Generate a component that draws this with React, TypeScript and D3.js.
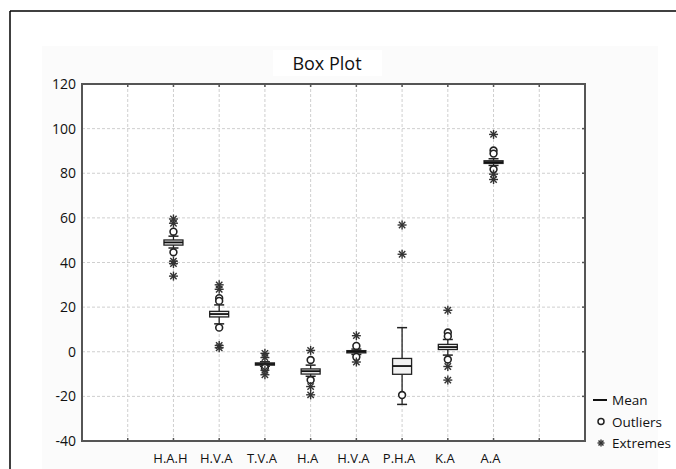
import React from "react";
import * as d3 from "d3";

const categories = ["H.A.H", "H.V.A", "T.V.A", "H.A", "H.V.A", "P.H.A", "K.A", "A.A"];
const q1 = [47.8, 15.6, -6.0, -10.0, -0.5, -10.1, 1.0, 84.4];
const means = [49.0, 16.9, -5.5, -8.7, 0.0, -6.4, 2.1, 85.0];
const q3 = [50.1, 18.1, -5.0, -7.7, 0.5, -3.0, 3.3, 85.6];
const whiskLow = [46.5, 12.5, -6.5, -11.0, -1.2, -23.6, -1.5, 83.5];
const whiskHigh = [51.8, 21.0, -4.5, -6.0, 1.2, 10.8, 5.5, 86.5];
const outliers = [
  [53.8, 44.6],
  [24.0, 22.8, 10.8],
  [-7.2],
  [-3.7, -12.7],
  [2.6, -2.3],
  [-19.4],
  [8.6, 7.0, -3.5],
  [90.2, 88.8, 81.8],
];
const extremes = [
  [59.5, 57.6, 40.6, 39.5, 33.9],
  [30.0, 28.0, 2.8, 1.8],
  [-0.7, -2.6, -8.3, -10.3],
  [0.6, -15.6, -19.3],
  [7.2, -4.6],
  [56.8, 43.7],
  [18.6, -6.6, -12.7],
  [97.4, 79.6, 77.2],
];
const yTicks = [-40, -20, 0, 20, 40, 60, 80, 100, 120];
const xGrid = [1, 2, 3, 4, 5, 6, 7, 8, 9, 10];
const legendItems = ["Mean", "Outliers", "Extremes"];

const FONT = "'Open Sans', 'Noto Sans', sans-serif";
const AX = "#555";

function Star({ x, y, r = 4.5 }: { x: number; y: number; r?: number }) {
  const lines = [0, 45, 90, 135].map((a) => {
    const rad = (a * Math.PI) / 180;
    return (
      <line
        key={a}
        x1={x - r * Math.cos(rad)}
        y1={y - r * Math.sin(rad)}
        x2={x + r * Math.cos(rad)}
        y2={y + r * Math.sin(rad)}
        stroke="#333"
        strokeWidth={1.4}
      />
    );
  });
  return <g>{lines}</g>;
}

export default function App() {
  const W = 676;
  const H = 469;
  const left = 82,
    right = 585,
    top = 84,
    bottom = 441;
  const x = d3.scaleLinear().domain([0, 11]).range([left, right]);
  const y = d3.scaleLinear().domain([-40, 120]).range([bottom, top]);
  const boxW = 19;
  const capW = 10;

  return (
    <svg
      width={W}
      height={H}
      style={{ position: "absolute", left: 0, top: 0, background: "#fff" }}
      fontFamily={FONT}
    >
      <rect x={0} y={0} width={W} height={H} fill="#fff" />
      <rect x={42} y={46} width={616} height={H - 46} fill="#fbfbfb" />
      {/* outer frame */}
      <line x1={10} y1={11} x2={W} y2={11} stroke="#000" strokeWidth={1.5} />
      <line x1={10} y1={11} x2={10} y2={H} stroke="#000" strokeWidth={1.5} />
      {/* title */}
      <rect x={273} y={50} width={109} height={26} fill="#fff" />
      <text x={327} y={70} textAnchor="middle" fontSize={18} fill="#111">
        Box Plot
      </text>
      {/* plot area */}
      <rect x={left} y={top} width={right - left} height={bottom - top} fill="#fff" />
      {yTicks.map((t) => (
        <line
          key={"gy" + t}
          x1={left}
          x2={right}
          y1={y(t)}
          y2={y(t)}
          stroke="#cfcfcf"
          strokeWidth={1}
          strokeDasharray="3,2"
        />
      ))}
      {xGrid.map((g) => (
        <line
          key={"gx" + g}
          x1={x(g)}
          x2={x(g)}
          y1={top}
          y2={bottom}
          stroke="#cfcfcf"
          strokeWidth={1}
          strokeDasharray="3,2"
        />
      ))}
      {/* ticks */}
      {xGrid.map((g) => (
        <g key={"tx" + g}>
          <line x1={x(g)} x2={x(g)} y1={top} y2={top + 3} stroke={AX} strokeWidth={1.5} />
          <line x1={x(g)} x2={x(g)} y1={bottom} y2={bottom - 3} stroke={AX} strokeWidth={1.5} />
        </g>
      ))}
      {yTicks.map((t) => (
        <line key={"ty" + t} x1={right} x2={right - 3} y1={y(t)} y2={y(t)} stroke={AX} strokeWidth={1.5} />
      ))}
      <rect
        x={left}
        y={top}
        width={right - left}
        height={bottom - top}
        fill="none"
        stroke={AX}
        strokeWidth={2}
      />
      {/* y labels */}
      {yTicks.map((t) => (
        <text key={"yl" + t} x={76} y={y(t) + 5} textAnchor="end" fontSize={14} fill="#111">
          {t}
        </text>
      ))}
      {/* x labels */}
      {categories.map((c, i) => (
        <text key={"xl" + i} x={x(i + 2) - 3} y={463} textAnchor="middle" fontSize={13} fill="#111">
          {c}
        </text>
      ))}
      {/* boxes */}
      {categories.map((c, i) => {
        const cx = x(i + 2);
        return (
          <g key={"b" + i}>
            <line x1={cx} x2={cx} y1={y(whiskHigh[i])} y2={y(q3[i])} stroke="#222" strokeWidth={1.3} />
            <line x1={cx} x2={cx} y1={y(q1[i])} y2={y(whiskLow[i])} stroke="#222" strokeWidth={1.3} />
            <line
              x1={cx - capW / 2}
              x2={cx + capW / 2}
              y1={y(whiskHigh[i])}
              y2={y(whiskHigh[i])}
              stroke="#222"
              strokeWidth={1.5}
            />
            <line
              x1={cx - capW / 2}
              x2={cx + capW / 2}
              y1={y(whiskLow[i])}
              y2={y(whiskLow[i])}
              stroke="#222"
              strokeWidth={1.5}
            />
            <rect
              x={cx - boxW / 2}
              y={y(q3[i])}
              width={boxW}
              height={Math.max(1, y(q1[i]) - y(q3[i]))}
              fill="#f2f2f2"
              stroke="#222"
              strokeWidth={1.3}
            />
            <line
              x1={cx - boxW / 2}
              x2={cx + boxW / 2}
              y1={y(means[i])}
              y2={y(means[i])}
              stroke="#111"
              strokeWidth={1.8}
            />
            {outliers[i].map((v, j) => (
              <circle key={"o" + j} cx={cx} cy={y(v)} r={3.4} fill="#fff" stroke="#222" strokeWidth={1.6} />
            ))}
            {extremes[i].map((v, j) => (
              <Star key={"e" + j} x={cx} y={y(v)} />
            ))}
          </g>
        );
      })}
      {/* legend */}
      {legendItems.map((l, i) => {
        const ly = 400 + i * 21.5;
        return (
          <g key={"lg" + i}>
            {i === 0 && <line x1={593} x2={607} y1={ly} y2={ly} stroke="#111" strokeWidth={2} />}
            {i === 1 && <circle cx={601} cy={ly} r={3} fill="#fff" stroke="#222" strokeWidth={1.5} />}
            {i === 2 && <Star x={601} y={ly} r={3.5} />}
            <text x={612} y={ly + 5} fontSize={13.5} fill="#111">
              {l}
            </text>
          </g>
        );
      })}
    </svg>
  );
}
